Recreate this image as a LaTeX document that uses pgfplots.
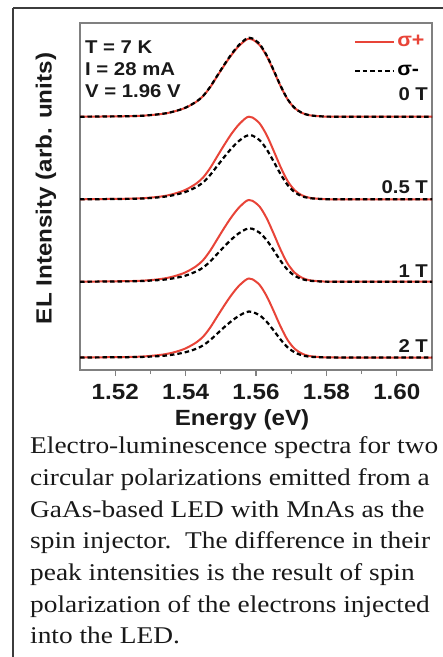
\documentclass[border=0pt]{standalone}
\usepackage{pgfplots}
\pgfplotsset{compat=1.18}
\usepackage{pgfplotstable}
\usepackage{fontspec}
\setmainfont{Liberation Sans}[FakeStretch=1.1]
\newfontfamily\capfont{Liberation Serif}[FakeStretch=1.14]
\definecolor{elred}{RGB}{232,68,56}
\definecolor{framegray}{RGB}{60,60,60}
\definecolor{axisgray}{RGB}{128,128,128}
\definecolor{txt}{RGB}{25,25,25}

% EL spectra, stacked with offsets (arb. units); p = sigma+, m = sigma-
\pgfplotstableread{
E     p0    m0    p05   m05   p1    m1    p2   m2
1.510 253.3 253.3 170.7 170.7 88.3  88.3  12.5 12.5
1.525 253.9 253.9 171.4 171.2 89.0  88.7  13.1 12.9
1.530 254.9 254.9 172.4 172.0 89.9  89.4  14.1 13.4
1.534 256.4 256.5 174.0 173.3 91.6  90.4  15.7 14.3
1.537 258.8 258.8 176.5 175.2 94.0  92.0  18.0 15.7
1.540 262.3 262.4 180.2 178.1 97.7  94.4  21.6 17.8
1.543 268.1 268.3 186.4 182.9 103.8 98.5  27.5 21.2
1.545 274.0 274.2 192.6 187.7 110.0 102.5 33.4 24.7
1.547 282.9 283.3 202.1 195.1 119.4 108.6 42.5 30.0
1.549 293.9 294.4 213.7 204.1 130.8 116.1 53.6 36.4
1.551 304.8 305.4 225.2 213.1 142.2 123.5 64.6 42.9
1.553 314.9 315.7 236.0 221.5 152.8 130.5 74.9 48.8
1.555 323.5 324.4 245.0 228.6 161.8 136.4 83.6 53.9
1.557 329.7 330.7 251.7 233.7 168.4 140.6 89.9 57.6
1.558 331.3 332.3 253.3 235.0 170.0 141.7 91.5 58.5
1.559 330.5 331.5 252.5 234.4 169.2 141.2 90.7 58.0
1.561 325.1 326.0 246.7 229.9 163.5 137.4 85.2 54.8
1.563 314.1 314.9 235.1 220.9 152.0 130.0 74.1 48.4
1.565 299.3 299.9 219.4 208.6 136.5 119.8 59.1 39.6
1.567 283.7 284.1 202.9 195.8 120.2 109.1 43.3 30.4
1.569 270.5 270.7 188.9 184.9 106.3 100.1 29.9 22.6
1.571 261.9 262.0 179.8 177.8 97.3  94.2  21.2 17.6
1.573 257.2 257.3 174.8 173.9 92.4  91.0  16.5 14.8
1.575 254.9 254.9 172.4 172.0 89.9  89.4  14.1 13.4
1.578 253.8 253.8 171.2 171.1 88.8  88.6  13.0 12.8
1.583 253.3 253.3 170.7 170.7 88.3  88.3  12.5 12.5
1.610 253.3 253.3 170.7 170.7 88.3  88.3  12.5 12.5
}\spectra

\begin{document}
\begin{tikzpicture}[x=1pt,y=1pt]
\useasboundingbox (0,0) rectangle (443,-657);
\draw[framegray, line width=2pt] (13,-8) -- (443,-8);
\draw[framegray, line width=2pt] (13,-8) -- (13,-657);

\begin{axis}[
  at={(80pt,-370pt)}, anchor=south west,
  scale only axis, width=352pt, height=347pt,
  xmin=1.51, xmax=1.61, ymin=0, ymax=347,
  xtick={1.52,1.54,1.56,1.58,1.60},
  minor xtick={1.53,1.55,1.57,1.59},
  ytick=\empty,
  xtick pos=bottom, tick align=outside,
  major tick length=6pt, minor tick length=4pt,
  every tick/.style={axisgray, line width=1.2pt},
  axis line style={axisgray, line width=1.2pt},
  /pgf/number format/.cd, fixed, fixed zerofill, precision=2, assume math mode=true,
  /pgfplots/.cd,
  xticklabel style={font=\bfseries\fontsize{22}{22}\selectfont, text=txt, yshift=-5pt},
  xlabel={Energy (eV)},
  xlabel style={font=\bfseries\fontsize{22}{22}\selectfont, text=txt,
    at={(axis description cs:0.5,0)}, anchor=base, yshift=-55pt, xshift=-14pt},
  ylabel={EL Intensity (arb. units)},
  ylabel style={font=\bfseries\fontsize{22}{22}\selectfont, text=txt,
    at={(axis description cs:0,0.5)}, anchor=center, yshift=34pt, xshift=8pt},
  legend style={draw=none, fill=none, at={(axis cs:1.6085,337)}, anchor=north east,
    font=\bfseries\fontsize{19.5}{19.5}\selectfont, row sep=13pt, inner sep=0pt},
  legend cell align=left,
  legend image code/.code={\draw[#1] (0pt,0pt) -- (39pt,0pt);},
]
\addplot[elred, line width=2pt, smooth] table[x=E, y=p0] {\spectra};
\addlegendentry{\textcolor{elred}{σ+}}
\addplot[black, line width=2.2pt, dash pattern=on 4.5pt off 3pt, smooth] table[x=E, y=m0] {\spectra};
\addlegendentry{σ-}
\addplot[elred, line width=2pt, smooth, forget plot] table[x=E, y=p05] {\spectra};
\addplot[black, line width=2.2pt, dash pattern=on 4.5pt off 3pt, smooth, forget plot] table[x=E, y=m05] {\spectra};
\addplot[elred, line width=2pt, smooth, forget plot] table[x=E, y=p1] {\spectra};
\addplot[black, line width=2.2pt, dash pattern=on 4.5pt off 3pt, smooth, forget plot] table[x=E, y=m1] {\spectra};
\addplot[elred, line width=2pt, smooth, forget plot] table[x=E, y=p2] {\spectra};
\addplot[black, line width=2.2pt, dash pattern=on 4.5pt off 3pt, smooth, forget plot] table[x=E, y=m2] {\spectra};

\begin{scope}[every node/.style={font=\bfseries\fontsize{18.5}{18.5}\selectfont, text=txt, inner sep=0pt}]
\node[anchor=base west] at (axis cs:1.5114,317) {T = 7 K};
\node[anchor=base west] at (axis cs:1.5114,295) {I = 28 mA};
\node[anchor=base west] at (axis cs:1.5114,273) {V = 1.96 V};
\node[anchor=base east] at (axis cs:1.6089,270) {0 T};
\node[anchor=base east] at (axis cs:1.6089,177) {0.5 T};
\node[anchor=base east] at (axis cs:1.6089,93) {1 T};
\node[anchor=base east] at (axis cs:1.6089,18) {2 T};
\end{scope}
\end{axis}

\node[anchor=north west, align=left, inner sep=0pt, text=txt,
  font=\capfont\fontsize{24}{31.7}\selectfont] at (30,-436.5)
  {Electro-luminescence spectra for two\\
   circular polarizations emitted from a\\
   GaAs-based LED with MnAs as the\\
   spin injector.\ \ The difference in their\\
   peak intensities is the result of spin\\
   polarization of the electrons injected\\
   into the LED.};
\end{tikzpicture}
\end{document}
